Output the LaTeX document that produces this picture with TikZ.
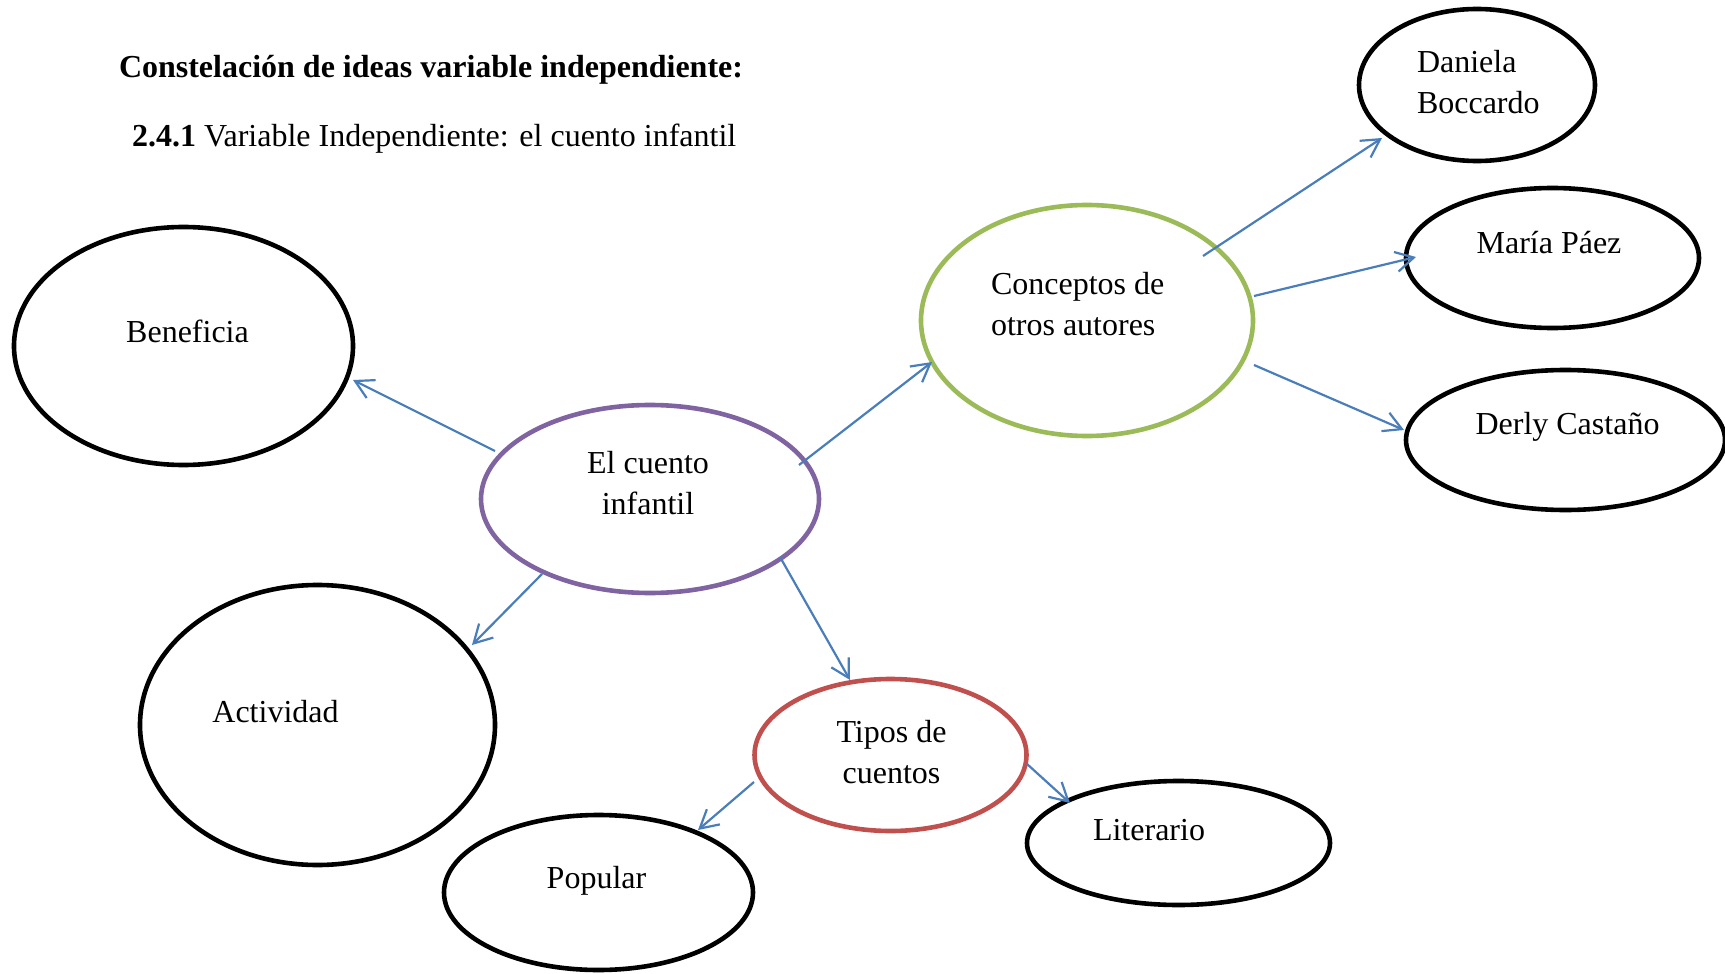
\documentclass[tikz,border=0pt]{standalone}
\usepackage{fontspec}
\setmainfont{Liberation Serif}
\usetikzlibrary{shapes.geometric,arrows.meta,calc}
\definecolor{arrowblue}{HTML}{4A7EBB}
\definecolor{bpurple}{HTML}{8064A2}
\definecolor{bgreen}{HTML}{9BBB59}
\definecolor{bred}{HTML}{C0504D}
\begin{document}
\begin{tikzpicture}[x=0.5pt,y=-0.5pt,
  bub/.style={ellipse, draw, line width=2.3pt, inner sep=0pt, outer sep=0pt},
  txt/.style={font=\fontsize{16}{20.5}\selectfont, inner sep=0pt, outer sep=0pt},
  conn/.style={draw=arrowblue, line width=1.1pt, -{Straight Barb[length=9pt,width=10pt]}}]
\useasboundingbox (0,0) rectangle (1725,974);

% headings
\node[txt, anchor=base west, font=\fontsize{16}{20.5}\selectfont\bfseries] (title) at (119,78) {Constelación de ideas variable independiente:};
\node[txt, anchor=base west] (subtitle) at (132,147) {\textbf{2.4.1} Variable Independiente: el cuento infantil};

% ellipses
\node[bub, minimum width=169.5pt, minimum height=119pt] (benef) at (183.5,346) {};
\node[bub, draw=bpurple, minimum width=169pt, minimum height=94pt] (cuento) at (650,499) {};
\node[bub, minimum width=177.5pt, minimum height=140pt] (activ) at (317.5,725) {};
\node[bub, draw=bgreen, minimum width=166pt, minimum height=115.5pt] (concep) at (1087,320.5) {};
\node[bub, minimum width=118pt, minimum height=76pt] (daniela) at (1477,85) {};
\node[bub, minimum width=146.5pt, minimum height=70pt] (maria) at (1552.5,258) {};
\node[bub, minimum width=159.5pt, minimum height=70pt] (derly) at (1565.5,440) {};
\node[bub, draw=bred, minimum width=136pt, minimum height=76pt] (tipos) at (890.5,755) {};
\node[bub, minimum width=154.5pt, minimum height=77.5pt] (popular) at (598.5,892.5) {};
\node[bub, minimum width=151.5pt, minimum height=62pt] (literario) at (1178.5,843) {};

% texts
\node[txt, anchor=base] (tbenef) at (187.5,342) {Beneficia};
\node[txt, anchor=base] (tcuento) at (648,473) {\begin{tabular}[t]{@{}c@{}}El cuento\\infantil\end{tabular}};
\node[txt, anchor=base] (tactiv) at (275.5,722) {Actividad};
\node[txt, anchor=base west] (tconcep) at (991,294) {\begin{tabular}[t]{@{}l@{}}Conceptos de\\otros autores\end{tabular}};
\node[txt, anchor=base west] (tdaniela) at (1417,73) {\begin{tabular}[t]{@{}l@{}}Daniela\\Boccardo\end{tabular}};
\node[txt, anchor=base] (tmaria) at (1549,253) {María Páez};
\node[txt, anchor=base] (tderly) at (1567.5,434) {Derly Castaño};
\node[txt, anchor=base] (ttipos) at (891.5,742) {\begin{tabular}[t]{@{}c@{}}Tipos de\\cuentos\end{tabular}};
\node[txt, anchor=base] (tpopular) at (596.5,888) {Popular};
\node[txt, anchor=base] (tliterario) at (1149,840) {Literario};

% connectors
\draw[conn] ($(cuento)+(-155,-48)$) -- ($(benef)+(169.5,34)$);
\draw[conn] ($(cuento)+(-108,75)$) -- ($(activ)+(154.5,-80)$);
\draw[conn] ($(cuento)+(130,58)$) -- ($(tipos)+(-40.5,-75)$);
\draw[conn] ($(cuento)+(149,-34)$) -- ($(concep)+(-155,41.5)$);
\draw[conn] ($(concep)+(116,-64.5)$) -- ($(daniela)+(-95,53)$);
\draw[conn] ($(concep)+(167,-24.5)$) -- ($(maria)+(-136.5,-1)$);
\draw[conn] ($(concep)+(167,44.5)$) -- ($(derly)+(-161.5,-10)$);
\draw[conn] ($(tipos)+(-136.5,27)$) -- ($(popular)+(99.5,-62.5)$);
\draw[conn] ($(tipos)+(136.5,9)$) -- ($(literario)+(-108.5,-40)$);
\end{tikzpicture}
\end{document}
